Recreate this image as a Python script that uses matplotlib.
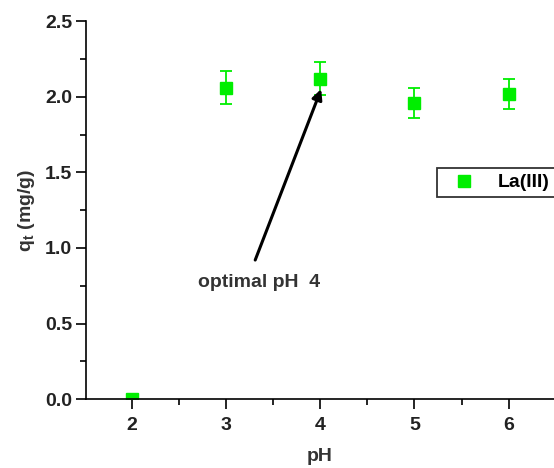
"""Adsorption capacity of La(III) against pH."""
import matplotlib.pyplot as plt
from matplotlib.ticker import MultipleLocator

plt.rcParams["font.family"] = ["Liberation Sans", "DejaVu Sans"]

# Data
ph = [2, 3, 4, 5, 6]
qt = [0.0, 2.06, 2.12, 1.96, 2.02]
qt_err = [0.0, 0.11, 0.11, 0.10, 0.10]

green = "#00ee00"

fig = plt.figure(figsize=(5.54, 4.68), dpi=100)
ax = fig.add_axes([86 / 554, 0.147, 468 / 554, 0.808])

# error bars and markers separately so the legend shows only the square
ax.errorbar(ph, qt, yerr=qt_err, fmt="none", ecolor=green,
            capsize=4, elinewidth=1.3, capthick=1.3)
ax.plot(ph, qt, "s", color=green, markersize=9, label="La(III)")

ax.set_xlim(1.515, 6.48)
ax.set_ylim(0, 2.5)
ax.xaxis.set_major_locator(MultipleLocator(1))
ax.xaxis.set_minor_locator(MultipleLocator(0.5))
ax.yaxis.set_major_locator(MultipleLocator(0.5))
ax.yaxis.set_minor_locator(MultipleLocator(0.25))
ax.yaxis.set_major_formatter(lambda v, p: f"{v:.1f}")

for side in ("top", "right"):
    ax.spines[side].set_visible(False)
for side in ("left", "bottom"):
    ax.spines[side].set_linewidth(1.2)

ax.tick_params(which="major", direction="out", length=7, width=1.2,
               labelsize=14)
ax.tick_params(axis="y", which="major", pad=3)
ax.tick_params(axis="x", which="major", pad=6)
ax.tick_params(which="minor", direction="out", length=4, width=1.2)
for lbl in ax.get_xticklabels() + ax.get_yticklabels():
    lbl.set_fontweight("bold")
    lbl.set_color("#222222")

ax.set_xlabel("pH", fontsize=14, fontweight="bold", color="#333333",
              labelpad=10)
ax.set_ylabel(r"q$_\mathregular{t}$ (mg/g)", fontsize=14, fontweight="bold",
              color="#333333", labelpad=6)

ax.annotate("", xy=(4.01, 2.05), xytext=(3.31, 0.92),
            arrowprops=dict(arrowstyle="-|>", color="black", lw=2.2,
                            mutation_scale=15, shrinkA=0, shrinkB=0))
ax.text(3.35, 0.77, "optimal pH  4", fontsize=14, fontweight="bold",
        color="#333333", ha="center", va="center")

# legend runs past the right edge, as in the reference
ax.legend(loc="upper left", bbox_to_anchor=(437 / 554, 1 - 168 / 468),
          bbox_transform=fig.transFigure, frameon=True, fancybox=False,
          edgecolor="black", borderpad=0.3, borderaxespad=0,
          handletextpad=0.6, handlelength=2.2,
          prop={"weight": "bold", "size": 14}, numpoints=1)
ax.get_legend().get_frame().set_linewidth(1.3)

fig.savefig("out.png", dpi=100)
